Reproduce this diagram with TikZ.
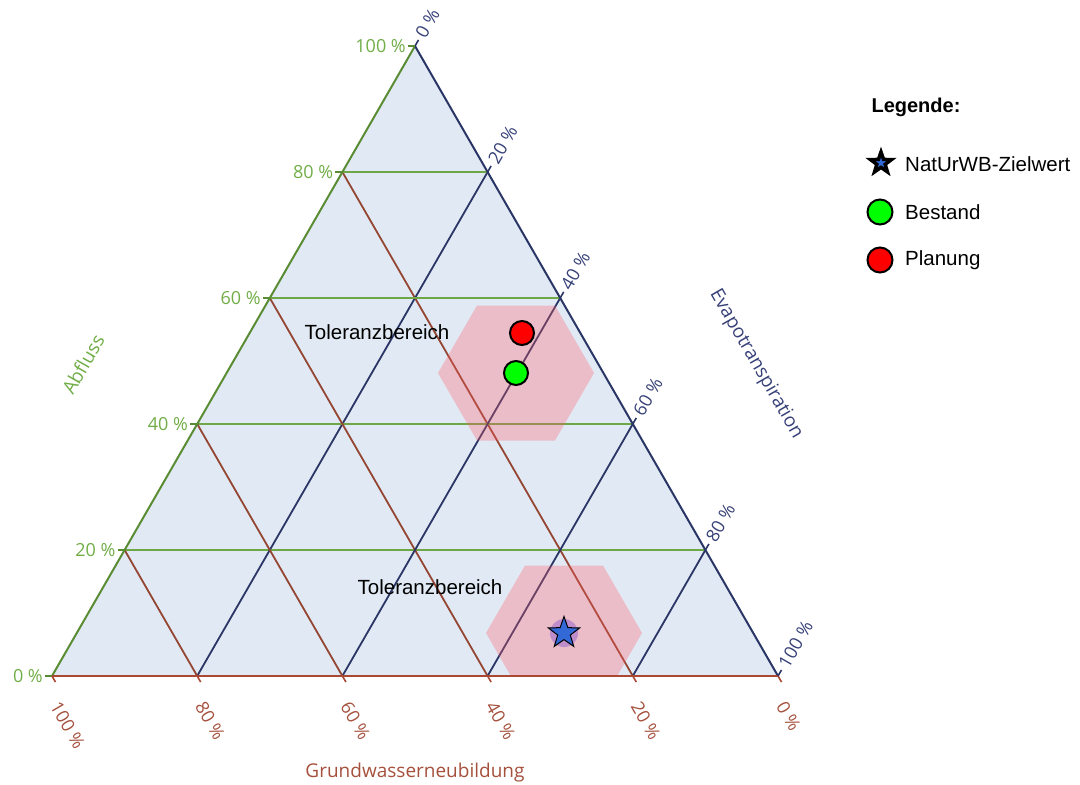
\documentclass[tikz,border=0pt]{standalone}
\usepackage{fontspec}
\setmainfont{Liberation Sans}
\newfontfamily\osans{Open Sans}
\usetikzlibrary{calc,shapes.geometric}
\definecolor{trifill}{RGB}{225,233,244}
\definecolor{grn}{RGB}{110,168,70}
\definecolor{grnedge}{RGB}{90,140,52}
\definecolor{grnlab}{RGB}{112,173,71}
\definecolor{nvy}{RGB}{42,54,102}
\definecolor{nvylab}{RGB}{55,65,120}
\definecolor{brn}{RGB}{148,70,50}
\definecolor{brnedge}{RGB}{170,72,52}
\definecolor{brnlab}{RGB}{165,80,60}
\definecolor{hexcol}{RGB}{255,90,100}
\definecolor{starblue}{RGB}{50,105,215}
\definecolor{glowcol}{RGB}{165,110,205}
\tikzset{
  gridline/.style={line width=1.8pt},
  edgeline/.style={line width=2pt},
  tickline/.style={line width=1.6pt},
  ticklab/.style={inner sep=0pt,font=\osans\fontsize{18}{20}\selectfont},
  axtitle/.style={inner sep=0pt,font=\osans\fontsize{19}{22}\selectfont},
  tolzone/.style={fill=hexcol,fill opacity=0.3},
  tollab/.style={inner sep=0pt,font=\fontsize{20.5}{24}\selectfont},
  legtext/.style={inner sep=0pt,anchor=west,font=\fontsize{20.5}{24}\selectfont},
  dotmark/.style={circle,draw=black,line width=2pt,minimum size=24pt,inner sep=0pt},
  starmark/.style={star,star points=5,star point ratio=2.5,inner sep=0pt,draw=black}
}
\begin{document}
\begin{tikzpicture}[x=1pt,y=-1pt]
\useasboundingbox (0,0) rectangle (1080,785);
\coordinate (A) at (52,676);
\coordinate (B) at (778,676);
\coordinate (C) at (415,46);
\fill[trifill] (A)--(B)--(C)--cycle;
% grid lines
\foreach \i in {1,...,4}{
  \pgfmathsetmacro\f{\i/5}
  \coordinate (gL\i) at ($(A)!\f!(C)$);
  \coordinate (gR\i) at ($(B)!\f!(C)$);
  \coordinate (nR\i) at ($(C)!\f!(B)$);
  \coordinate (nB\i) at ($(A)!\f!(B)$);
  \coordinate (bB\i) at ($(B)!\f!(A)$);
  \coordinate (bL\i) at ($(C)!\f!(A)$);
  \draw[gridline,grn] (gL\i) -- (gR\i);
  \draw[gridline,brn] (bB\i) -- (bL\i);
  \draw[gridline,nvy] (nR\i) -- (nB\i);
}
% tolerance zones
\coordinate (H1) at (516,373);
\coordinate (H2) at (564,633);
\begin{scope}
\clip (A)--(B)--(C)--cycle;
\fill[tolzone] ($(H1)+(78,0)$) -- ($(H1)+(39,67.5)$) -- ($(H1)+(-39,67.5)$) -- ($(H1)+(-78,0)$) -- ($(H1)+(-39,-67.5)$) -- ($(H1)+(39,-67.5)$) -- cycle;
\fill[tolzone] ($(H2)+(78,0)$) -- ($(H2)+(39,67.5)$) -- ($(H2)+(-39,67.5)$) -- ($(H2)+(-78,0)$) -- ($(H2)+(-39,-67.5)$) -- ($(H2)+(39,-67.5)$) -- cycle;
\end{scope}
% edges
\draw[edgeline,grnedge] (A) -- (C);
\draw[edgeline,nvy] (C) -- (B);
\draw[edgeline,brnedge] (B) -- (A);
% ticks and labels
\foreach \i in {0,...,5}{
  \pgfmathsetmacro\f{\i/5}
  \pgfmathtruncatemacro\p{\i*20}
  \coordinate (tg\i) at ($(A)!\f!(C)$);
  \coordinate (tn\i) at ($(C)!\f!(B)$);
  \coordinate (tb\i) at ($(B)!\f!(A)$);
  \draw[tickline,grnedge] (tg\i) -- ++(-7,0);
  \draw[tickline,nvy] (tn\i) -- ++(3.5,-6.06);
  \draw[tickline,brnedge] (tb\i) -- ++(3.5,6.06);
  \node[ticklab,grnlab,anchor=east] (lg\i) at ($(tg\i)+(-9,0)$) {\p\ \%};
  \node[ticklab,nvylab,anchor=west,rotate=60] (ln\i) at ($(tn\i)+(5,-10)$) {\p\ \%};
  \node[ticklab,brnlab,anchor=west,rotate=-60] (lb\i) at ($(tb\i)+(3,27)$) {\p\ \%};
}
% axis titles
\node[axtitle,grnlab,rotate=60] (tAbf) at (83,364) {Abfluss};
\node[axtitle,nvylab,rotate=-60] (tEva) at (756,364) {Evapotranspiration};
\node[axtitle,brnlab] (tGwn) at (415,773) {Grundwasserneubildung};
% tolerance labels
\node[tollab] (tol1) at (377,332) {Toleranzbereich};
\node[tollab] (tol2) at (430,587) {Toleranzbereich};
% markers
\fill[glowcol,opacity=0.6] (H2) circle (14);
\node[starmark,fill=starblue,line width=1pt,minimum size=33pt] (ziel) at (H2) {};
\node[dotmark,fill=green] (bestand) at (H1) {};
\node[dotmark,fill=red] (planung) at (522,333) {};
% legend
\node[inner sep=0pt,font=\bfseries\fontsize{20}{22}\selectfont] (leg) at (916,107) {Legende:};
\node[starmark,fill=starblue,line width=3.5pt,minimum size=22pt] (legstar) at (881,163) {};
\node[legtext] (legstart) at (905,164) {NatUrWB-Zielwert};
\node[dotmark,fill=green,minimum size=25pt] (leggreen) at (880,212) {};
\node[legtext] (leggtext) at (905,212) {Bestand};
\node[dotmark,fill=red,minimum size=25pt] (legred) at (880,260) {};
\node[legtext] (legrtext) at (905,260) {Planung};
\end{tikzpicture}
\end{document}
